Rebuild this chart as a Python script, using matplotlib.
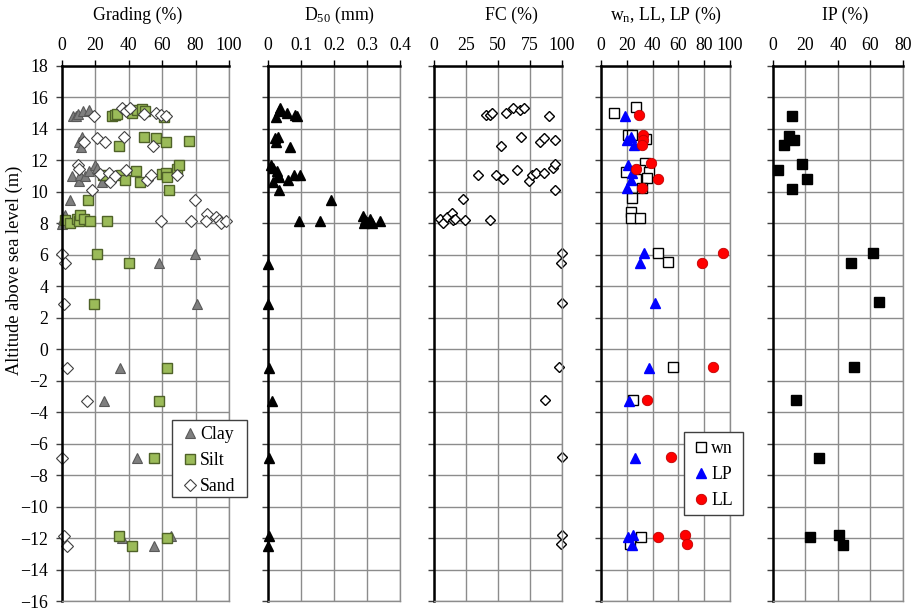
import matplotlib
matplotlib.use("Agg")
import matplotlib.pyplot as plt
from matplotlib.patches import Rectangle
from matplotlib.ticker import MultipleLocator

plt.rcParams['font.family'] = ['Liberation Serif', 'DejaVu Serif']
plt.rcParams['mathtext.default'] = 'regular'
plt.rcParams['font.size'] = 12.8

# ---- grading (%) ----
clay_x = [6.4, 8.5, 9.5, 12.6, 16, 10, 12, 11.5, 6, 10, 11, 13.5, 16, 20, 21, 24,
          4.6, 0.3, 0.8, 1.6, 0.2, 79.4, 58, 81, 35, 25, 45, 36, 55, 65.5]
clay_y = [14.85, 14.8, 14.95, 15.15, 15.2, 13.2, 13.5, 12.85, 11.0, 10.7, 11.1, 11.0,
          11.3, 11.7, 11.5, 10.65, 9.5, 8.1, 8.3, 8.55, 7.95, 6.05, 5.45, 2.9, -1.2,
          -3.3, -6.9, -12.0, -12.5, -11.9]
silt_x = [30, 32, 33, 42, 45, 48, 49.5, 61, 34, 49, 56, 62, 76, 24.5, 35.5, 38, 44.5,
          47, 60, 62, 63, 69, 70, 64, 15.8, 2, 5, 9, 10, 11, 13, 16.6, 27, 21, 40, 19,
          63, 58.3, 55, 34, 42, 63]
silt_y = [14.8, 14.9, 14.95, 15.0, 15.2, 15.25, 15.15, 14.75, 12.9, 13.5, 13.4, 13.2,
          13.25, 11.05, 11.1, 10.75, 11.3, 10.65, 11.15, 11.2, 10.95, 11.45, 11.7, 10.1,
          9.5, 8.2, 8.05, 8.3, 8.15, 8.55, 8.3, 8.15, 8.15, 6.05, 5.45, 2.9, -1.2, -3.3,
          -6.9, -11.85, -12.5, -12.0]
sand_x = [19, 36, 38.5, 41, 49, 56, 59, 62, 13, 21, 26, 37, 54.5, 9.4, 10, 23, 28, 29,
          32, 38.5, 51, 53, 69, 18, 79.4, 59.5, 77, 87, 92, 86.5, 94, 95, 98, 0, 2, 1,
          3, 15, 0, 1, 3]
sand_y = [14.8, 15.3, 15.15, 15.3, 14.95, 15.0, 14.9, 14.8, 13.2, 13.45, 13.15, 13.5,
          12.9, 11.7, 11.45, 11.15, 11.2, 10.65, 11.0, 11.4, 10.75, 11.05, 11.05, 10.1,
          9.5, 8.15, 8.15, 8.6, 8.4, 8.15, 8.2, 8.0, 8.15, 6.05, 5.45, 2.9, -1.2, -3.3,
          -6.9, -11.85, -12.5]

# ---- D50 (mm) ----
d50_x = [0.035, 0.033, 0.025, 0.058, 0.081, 0.088, 0.022, 0.03, 0.025, 0.068,
         0.01, 0.014, 0.027, 0.03, 0.034, 0.015, 0.06, 0.078, 0.096, 0.032, 0.192,
         0.093, 0.157, 0.287, 0.29, 0.295, 0.30, 0.31, 0.315, 0.338,
         0, 0, 0.004, 0.012, 0.002, 0.002, 0]
d50_y = [15.3, 15.15, 14.77, 15.0, 14.9, 14.8, 13.4, 13.5, 13.2, 12.86,
         11.7, 11.5, 11.3, 11.07, 10.96, 10.65, 10.75, 11.07, 11.07, 10.1, 9.5,
         8.17, 8.17, 8.45, 8.0, 8.2, 8.1, 8.3, 8.05, 8.15,
         5.4, 2.9, -1.2, -3.3, -6.9, -11.9, -12.5]

# ---- FC (%) ----
fc_x = [41, 43.6, 45.7, 56, 61.8, 67, 70.4, 90, 52, 68.3, 82.6, 86, 94.5, 34, 48.8, 54,
        65, 74, 76.4, 80, 85.7, 93, 94.3, 94.8, 22.9, 4.7, 6.75, 10.4, 14, 14.5, 16.4,
        24, 43.6, 100, 99, 100, 98, 87, 100, 100, 99]
fc_y = [14.87, 14.9, 15.0, 15.0, 15.3, 15.2, 15.3, 14.8, 12.9, 13.5, 13.2, 13.45, 13.3,
        11.1, 11.1, 10.8, 11.4, 10.7, 11.05, 11.2, 11.2, 11.5, 11.75, 10.15, 9.54, 8.27,
        8.04, 8.4, 8.67, 8.2, 8.3, 8.2, 8.2, 6.1, 5.5, 2.96, -1.1, -3.2, -6.85, -11.8,
        -12.35]

# ---- wn, LP, LL (%) ----
wn_x = [10.1, 27.5, 21.3, 24.4, 34.8, 34.3, 19.2, 30.4, 37.4, 35.6, 27, 31.4, 24.4,
        23.1, 23.1, 30.4, 44.4, 52, 56, 25, 31, 22.5]
wn_y = [15.03, 15.38, 13.6, 13.6, 13.34, 11.82, 11.29, 11.4, 11.29, 10.86, 10.8, 10.23,
        9.6, 8.74, 8.32, 8.32, 6.1, 5.55, -1.15, -3.23, -11.94, -12.4]
lp_x = [18.4, 20.5, 23, 25.2, 21, 24.4, 23.6, 20.5, 33.3, 30.2, 41.6, 37.2, 22, 26.4,
        21.2, 24.5, 23.8]
lp_y = [14.82, 13.3, 13.5, 12.98, 11.71, 11.18, 10.76, 10.23, 6.1, 5.5, 2.95, -1.19,
        -3.28, -6.9, -11.96, -11.83, -12.47]
ll_x = [29.6, 32.2, 32.2, 31.7, 38.7, 27.5, 44.5, 31.7, 94.6, 78.3, 87, 36, 54, 44.2,
        65, 67]
ll_y = [14.89, 13.6, 13.3, 12.98, 11.82, 11.46, 10.82, 10.23, 6.1, 5.5, -1.15, -3.23,
        -6.85, -11.94, -11.83, -12.4]

# ---- IP (%) ----
ip_x = [11.5, 9.8, 12.7, 6.6, 17.6, 3.1, 21.1, 11.5, 61.7, 48.2, 65, 50, 14.4, 28.1,
        23, 40.4, 43.3]
ip_y = [14.8, 13.55, 13.3, 12.97, 11.78, 11.38, 10.8, 10.18, 6.1, 5.5, 3.0, -1.15,
        -3.23, -6.9, -11.94, -11.83, -12.43]

W, H = 920, 610
fig = plt.figure(figsize=(W / 100, H / 100), dpi=100)

# panel pixel extents (left, right) and title centres
panels = [(62, 229), (268, 400), (434, 562), (601, 730), (773, 903)]
title_cx = [138, 339, 511, 666, 845]
top_px, bot_px = 66, 601
titles = ['Grading (%)', 'D$_{50}$ (mm)', 'FC (%)', 'w$_{n}$, LL, LP (%)', 'IP (%)']
xlims = [(0, 100), (0, 0.4), (0, 100), (0, 100), (0, 80)]
xsteps = [20, 0.1, 25, 20, 20]
grid_c = '#8c8c8c'

axes = []
for i, (l, r) in enumerate(panels):
    ax = fig.add_axes([l / W, 1 - bot_px / H, (r - l) / W, (bot_px - top_px) / H])
    ax.set_xlim(*xlims[i])
    ax.set_ylim(-16, 18)
    ax.xaxis.set_major_locator(MultipleLocator(xsteps[i]))
    ax.yaxis.set_major_locator(MultipleLocator(2))
    ax.xaxis.tick_top()
    ax.grid(True, color=grid_c, lw=1.0)
    ax.set_axisbelow(True)
    for s in ['right', 'bottom']:
        ax.spines[s].set_color(grid_c)
        ax.spines[s].set_linewidth(1.0)
    for s in ['left', 'top']:
        ax.spines[s].set_color('black')
        ax.spines[s].set_linewidth(1.8)
    ax.tick_params(axis='x', direction='out', length=4, width=1, pad=5, top=True, bottom=False)
    ax.tick_params(axis='y', direction='out', length=4, width=1, pad=6, color='#404040')
    if i > 0:
        ax.tick_params(axis='y', labelleft=False)
    fig.text(title_cx[i] / W, 1 - 15 / H, titles[i], ha='center', va='center')
    axes.append(ax)

axes[1].set_xticks([0, 0.1, 0.2, 0.3, 0.4])
axes[1].set_xticklabels(['0', '0.1', '0.2', '0.3', '0.4'])


def framed_legend(ax, handle_x, first_y, box):
    # figure-level legend boxed by a plain rectangle, drawn above the axes
    handles, labels = ax.get_legend_handles_labels()
    x0, y0, x1, y1 = box
    fig.patches.append(Rectangle((x0 / W, 1 - y1 / H), (x1 - x0) / W, (y1 - y0) / H,
                                 transform=fig.transFigure, facecolor='white',
                                 edgecolor='#404040', lw=1.0, zorder=4))
    leg = fig.legend(handles, labels, loc='upper left',
                     bbox_to_anchor=((handle_x - 5) / W, 1 - (first_y - 7) / H),
                     bbox_transform=fig.transFigure, frameon=False,
                     handlelength=0.6, handletextpad=0.25, labelspacing=0.5,
                     borderpad=0, borderaxespad=0)
    leg.set_zorder(5)
    return leg


# grading
ax = axes[0]
ax.plot(clay_x, clay_y, ls='none', marker='^', ms=7.5, mfc='#7f7f7f', mec='#595959',
        mew=0.8, label='Clay', clip_on=False)
ax.plot(silt_x, silt_y, ls='none', marker='s', ms=7, mfc='#9bbb59', mec='#4f6228',
        mew=1.0, label='Silt', clip_on=False)
ax.plot(sand_x, sand_y, ls='none', marker='D', ms=5.8, mfc='white', mec='#404040',
        mew=0.8, label='Sand', clip_on=False)
framed_legend(ax, 190, 433, (172, 420, 247, 497))

# D50
axes[1].plot(d50_x, d50_y, ls='none', marker='^', ms=7.5, mfc='black', mec='black',
             clip_on=False)

# FC
axes[2].plot(fc_x, fc_y, ls='none', marker='D', ms=5, mfc='white', mec='black',
             mew=1.0, clip_on=False)

# wn / LP / LL
ax = axes[3]
ax.plot(wn_x, wn_y, ls='none', marker='s', ms=7.5, mfc='white', mec='black',
        mew=1.0, label='wn', clip_on=False)
ax.plot(lp_x, lp_y, ls='none', marker='^', ms=7.5, mfc='#0000ff', mec='#0000ff',
        label='LP', clip_on=False)
ax.plot(ll_x, ll_y, ls='none', marker='o', ms=7.5, mfc='#ff0000', mec='#c00000',
        mew=0.6, label='LL', clip_on=False)
framed_legend(ax, 701, 447, (684, 432, 743, 515))

# IP
axes[4].plot(ip_x, ip_y, ls='none', marker='s', ms=7, mfc='black', mec='black',
             clip_on=False)

fig.text(14 / W, 1 - 270 / H, 'Altitude above sea level (m)', rotation=90,
         ha='center', va='center', fontsize=13.2)

fig.savefig('out.png', dpi=100)
